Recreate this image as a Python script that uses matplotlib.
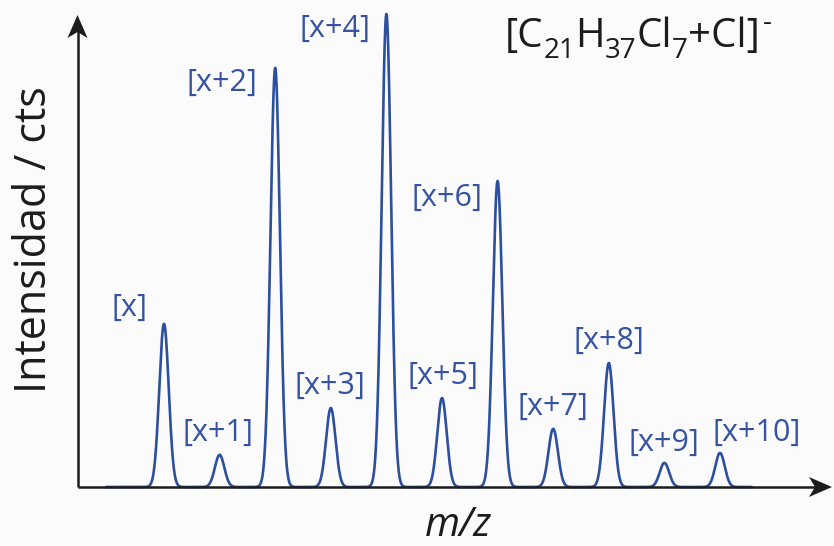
import numpy as np
import matplotlib
matplotlib.use("Agg")
import matplotlib.pyplot as plt
from matplotlib.patches import Polygon

plt.rcParams['font.family'] = ['Open Sans', 'DejaVu Sans']

# ---- data ----
peak_labels = ['[x]', '[x+1]', '[x+2]', '[x+3]', '[x+4]', '[x+5]',
               '[x+6]', '[x+7]', '[x+8]', '[x+9]', '[x+10]']
peak_offsets = [0, 1, 2, 3, 4, 5, 6, 7, 8, 9, 10]          # m/z offset from x
intensities = [34.5, 6.8, 88.6, 16.7, 100.0, 18.8, 64.7, 12.3, 26.2, 5.1, 7.2]
formula_parts = [('[C', 'n'), ('21', 'sub'), ('H', 'n'), ('37', 'sub'),
                 ('Cl', 'n'), ('7', 'sub'), ('+Cl]', 'n'), ('-', 'sup')]
xlabel = 'm/z'
ylabel = 'Intensidad / cts'

# ---- layout / style ----
W, H = 834, 546
X0_PX, PX_X = 164.0, 55.6      # pixel of first peak, px per m/z unit
Y0_PX, PX_Y = 487.0, 4.73      # baseline pixel (from top), px per intensity unit
BLUE = '#2d4f9f'
LBLUE = '#3552a3'
BLACK = '#1c1c1c'
BG = '#fbfbfb'
sigma = 0.085

# label offsets in pixels (dx, dy) relative to peak top
label_off = [(-35, 16), (-2, 22), (-53, -15), (-1, 22), (-51, -15), (1, 22),
             (-51, -17), (0, 22), (0, 22), (0, 20), (37, 20)]

fig = plt.figure(figsize=(W / 100, H / 100), dpi=100, facecolor=BG)
ax = fig.add_axes([0, 0, 1, 1])
ax.set_facecolor(BG)
ax.axis('off')
ax.set_xlim((0 - X0_PX) / PX_X, (W - X0_PX) / PX_X)
ax.set_ylim((Y0_PX - H) / PX_Y, Y0_PX / PX_Y)

# spectrum
mz = np.linspace(-1.03, 10.56, 5000)
spec = np.zeros_like(mz)
for p, h in zip(peak_offsets, intensities):
    spec += h * np.exp(-0.5 * ((mz - p) / sigma) ** 2)
ax.plot(mz, spec, color=BLUE, lw=1.9, solid_joinstyle='round', zorder=2)

# axes with arrows
x_orig = (77.5 - X0_PX) / PX_X
x_tip = (832 - X0_PX) / PX_X
y_tip = (Y0_PX - 15) / PX_Y
ax.plot([x_orig, x_tip - 10 / PX_X], [0, 0], color=BLACK, lw=1.8, zorder=3,
        solid_capstyle='butt')
ax.plot([x_orig, x_orig], [0, y_tip - 10 / PX_Y], color=BLACK, lw=1.8, zorder=3,
        solid_capstyle='butt')


def arrowhead(tx, ty, direction, length=23, width=20, notch=6):
    if direction == 'up':
        pts = [(0, 0), (-width / 2, -length), (0, -length + notch), (width / 2, -length)]
    else:
        pts = [(0, 0), (-length, width / 2), (-length + notch, 0), (-length, -width / 2)]
    poly = [(tx + dx / PX_X, ty + dy / PX_Y) for dx, dy in pts]
    ax.add_patch(Polygon(poly, closed=True, color=BLACK, lw=0, zorder=4))


arrowhead(x_orig, y_tip, 'up')
arrowhead(x_tip, 0, 'right')

# peak labels
for p, h, lab, (dx, dy) in zip(peak_offsets, intensities, peak_labels, label_off):
    ax.annotate(lab, xy=(p, h), xytext=(dx, dy), textcoords='offset pixels',
                ha='center', va='center', fontsize=22, color=LBLUE)

# formula built piece by piece (pixel layout, y from top)
renderer = fig.canvas.get_renderer()
cur_x = 505.0
base_y = 47.0
styles = {'n': (29, 0, 0), 'sub': (20, 11, 0), 'sup': (20, -17, 3)}
for txt, kind in formula_parts:
    fs, dy, gap = styles[kind]
    cur_x += gap
    t = fig.text(cur_x / W, 1 - (base_y + dy) / H, txt, ha='left', va='baseline',
                 fontsize=fs, color=BLACK)
    bb = t.get_window_extent(renderer)
    cur_x += bb.width

fig.text(35 / W, 1 - 240 / H, ylabel, rotation=90, ha='center', va='center',
         fontsize=31, color=BLACK)
fig.text(458 / W, 1 - 526 / H, xlabel, ha='center', va='center', fontsize=29,
         style='italic', color=BLACK)

fig.savefig('out.png', dpi=100, facecolor=BG)
